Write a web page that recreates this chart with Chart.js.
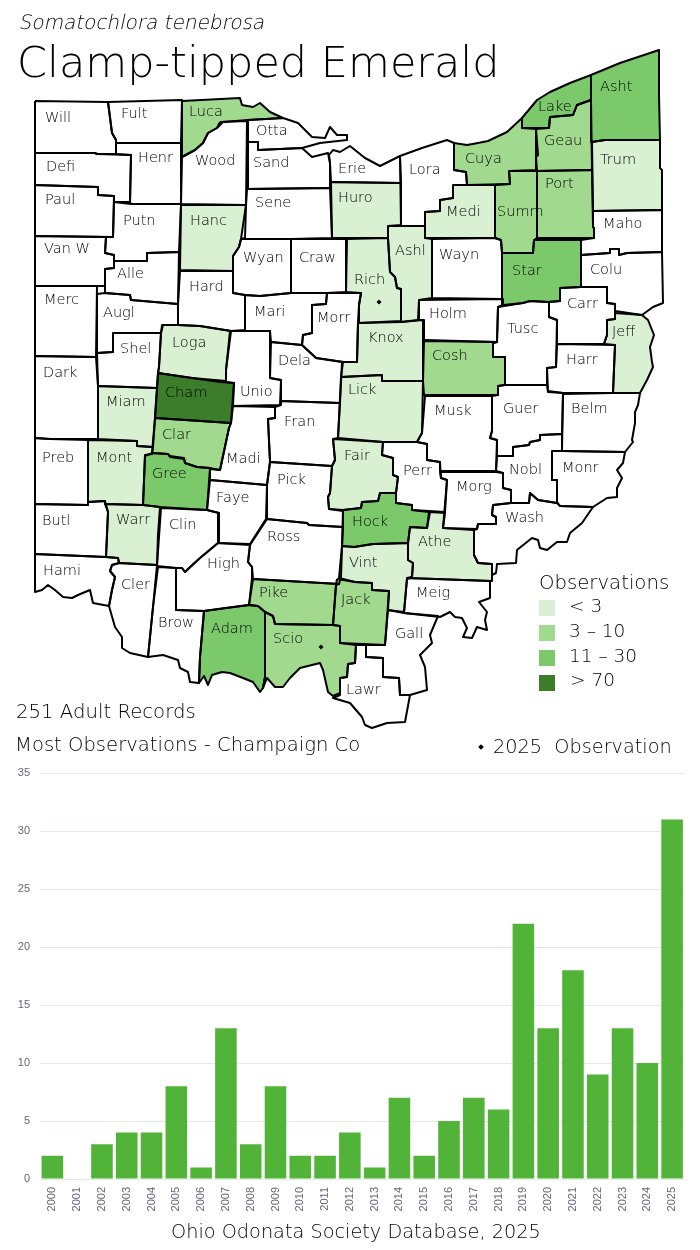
<!DOCTYPE html>
<html>
<head>
<meta charset="utf-8">
<title>Clamp-tipped Emerald</title>
<script src="https://cdn.jsdelivr.net/npm/chart.js@4"></script>
<style>
    body { margin: 0; background: #fff; width: 700px; height: 1250px; position: relative; overflow: hidden; font-family: "DejaVu Sans", sans-serif; font-weight: 200; color: #000; }
    canvas { position: absolute; left: 0; }
    .t { position: absolute; white-space: pre; line-height: 1; }
    .sw { position: absolute; left: 539px; width: 16px; height: 16px; }
</style>
</head>
<body>
<canvas id="mapChart" width="700" height="760" style="top:0"></canvas>
<canvas id="yearChart" width="700" height="470" style="top:760px"></canvas>

<div class="t" style="left:20px;top:12px;font-size:20px;transform:skewX(-12deg)">Somatochlora tenebrosa</div>
<div class="t" style="left:17px;top:41px;font-size:43px">Clamp-tipped Emerald</div>
<div class="t" style="left:16px;top:702px;font-size:19.7px">251 Adult Records</div>
<div class="t" style="left:15px;top:735px;font-size:19.6px">Most Observations - Champaign Co</div>
<div style="position:absolute;left:479px;top:745px;width:4px;height:4px;background:#000;transform:rotate(45deg)"></div>
<div class="t" style="left:493px;top:737px;font-size:19.3px">2025  Observation</div>
<div class="t" style="left:539px;top:573px;font-size:19.7px">Observations</div>
<div class="sw" style="top:600px;background:#d9f0d3"></div>
<div class="sw" style="top:625px;background:#a1d98f"></div>
<div class="sw" style="top:650px;background:#7bc96a"></div>
<div class="sw" style="top:675px;background:#3b7d2b"></div>
<div class="t" style="left:569px;top:597px;font-size:18.5px">&lt; 3</div>
<div class="t" style="left:569px;top:622px;font-size:18.5px">3 – 10</div>
<div class="t" style="left:569px;top:647px;font-size:18.5px">11 – 30</div>
<div class="t" style="left:570px;top:671px;font-size:18.5px">&gt; 70</div>
<div class="t" style="left:171px;top:1222px;font-size:19.3px">Ohio Odonata Society Database, 2025</div>

<script>
// bar chart values
const years = ['2000','2001','2002','2003','2004','2005','2006','2007','2008','2009','2010','2011','2012',
    '2013','2014','2015','2016','2017','2018','2019','2020','2021','2022','2023','2024','2025'];
const yearCounts = [2,0,3,4,4,8,1,13,3,8,2,2,4,1,7,2,5,7,6,22,13,18,9,13,10,31];

// observation bands, lightest to darkest, 0 is no records
const bandColors = ['#ffffff','#d9f0d3','#a1d98f','#7bc96a','#3b7d2b'];

const countyNames = ['Will','Fult','Henr','Defi','Paul','Putn','Van W','Alle','Merc','Augl','Shel','Dark',
    'Miam','Cham','Clar','Gree','Mont','Preb','Butl','Warr','Hami','Cler','Clin','Brow','High','Faye',
    'Madi','Unio','Loga','Hard','Hanc','Wood','Luca','Otta','Sand','Erie','Huro','Sene','Wyan','Craw',
    'Rich','Morr','Mari','Dela','Fran','Pick','Ross','Pike','Adam','Scio','Jack','Vint','Hock','Fair',
    'Lick','Knox','Ashl','Lora','Cuya','Lake','Geau','Asht','Trum','Port','Maho','Summ','Medi','Wayn',
    'Star','Colu','Carr','Jeff','Harr','Tusc','Holm','Cosh','Musk','Guer','Belm','Monr','Nobl','Morg',
    'Perr','Athe','Wash','Meig','Gall','Lawr'];

const countyBands = [0,0,0,0,0,0,0,0,0,0,0,0,
    1,4,2,3,1,0,0,1,0,0,0,0,0,0,
    0,0,1,0,1,0,2,0,0,0,1,0,0,0,
    1,0,0,0,0,0,0,2,3,2,2,1,3,1,
    1,1,1,0,2,3,2,3,1,2,0,2,1,0,
    3,0,0,1,0,0,0,2,0,0,0,0,0,0,
    0,1,0,0,0,0];

// outlines, same order as countyNames
const countyOutlines = [
    [[35,101],[108,102],[112,133],[116,140],[116,154],[97,154],[95,153],[35,153]],
    [[108,102],[182,100],[181,143],[116,143],[116,140],[112,133]],
    [[116,143],[181,143],[181,204],[131,204],[130,202],[131,155],[116,154]],
    [[35,153],[95,153],[97,154],[131,155],[130,202],[114,202],[114,196],[98,195],[98,187],[35,185]],
    [[35,185],[98,187],[98,195],[114,196],[113,237],[35,236]],
    [[114,202],[131,204],[181,204],[179,252],[147,253],[147,261],[114,261],[114,255],[105,253],[106,237],[113,237]],
    [[35,236],[106,237],[105,253],[114,255],[114,268],[105,269],[105,286],[97,286],[35,286]],
    [[114,261],[147,261],[147,253],[179,252],[178,304],[131,300],[130,295],[105,293],[105,269],[114,268]],
    [[35,286],[97,286],[96,357],[35,356]],
    [[97,294],[105,293],[130,295],[131,300],[178,304],[178,325],[162,325],[161,333],[113,333],[113,352],[97,353]],
    [[113,333],[161,333],[159,367],[158,373],[157,388],[98,386],[97,353],[113,352]],
    [[35,356],[96,357],[98,386],[98,439],[50,439],[35,438]],
    [[98,386],[157,388],[155,418],[153,447],[137,446],[137,441],[98,439]],
    [[158,373],[192,378],[220,382],[234,383],[231,423],[155,418],[157,388]],
    [[155,418],[231,423],[229,428],[220,470],[209,468],[197,467],[185,463],[184,458],[170,456],[168,454],[152,453]],
    [[145,456],[152,453],[168,454],[170,457],[184,459],[185,463],[197,467],[210,468],[207,510],[160,507],[143,505]],
    [[88,440],[137,441],[137,446],[153,447],[152,454],[145,455],[143,505],[105,504],[105,501],[88,502]],
    [[35,438],[50,439],[88,440],[88,505],[35,504]],
    [[35,504],[88,505],[88,502],[105,501],[108,512],[106,557],[35,554]],
    [[105,504],[143,505],[160,507],[158,535],[157,565],[119,563],[118,558],[106,557],[108,512]],
    [[35,554],[106,557],[118,558],[119,563],[112,565],[110,571],[115,577],[112,590],[109,606],[93,603],[90,590],[78,595],[72,598],[63,597],[55,590],[48,585],[42,590],[35,592]],
    [[119,563],[157,565],[153,607],[148,657],[130,653],[122,648],[122,637],[115,627],[109,606],[112,590],[115,577],[110,571],[112,565]],
    [[161,508],[207,510],[219,513],[218,543],[200,558],[190,567],[185,572],[182,568],[176,568],[157,566]],
    [[158,567],[176,568],[176,610],[204,611],[200,657],[199,683],[190,682],[188,672],[180,668],[178,660],[163,655],[148,657],[153,607]],
    [[185,572],[200,558],[218,543],[250,545],[248,562],[252,567],[252,578],[249,605],[226,608],[204,611],[176,610],[176,568],[182,568]],
    [[210,480],[267,485],[266,519],[250,544],[218,543],[219,513],[207,510]],
    [[233,406],[275,407],[275,418],[268,419],[270,462],[267,485],[210,480],[210,469],[220,470],[229,428],[231,423]],
    [[230,331],[270,331],[270,378],[281,380],[280,405],[233,406],[234,383],[226,382],[226,370]],
    [[163,325],[178,325],[200,326],[231,331],[226,370],[226,381],[192,378],[158,373],[159,367],[161,333]],
    [[180,271],[233,271],[233,293],[245,295],[245,330],[231,331],[200,326],[178,325],[178,304]],
    [[181,205],[246,205],[245,238],[241,239],[239,247],[233,256],[233,271],[180,270]],
    [[220,122],[247,121],[246,205],[181,204],[182,157],[195,150],[203,143],[208,133],[217,128]],
    [[182,101],[240,98],[242,105],[253,107],[260,103],[270,112],[283,118],[248,120],[223,122],[217,128],[208,133],[203,143],[195,150],[182,157]],
    [[248,120],[283,118],[298,123],[312,137],[325,138],[330,127],[337,135],[347,135],[347,140],[320,143],[302,148],[258,150],[258,142],[248,142]],
    [[248,142],[258,142],[258,150],[302,148],[312,157],[320,155],[328,153],[330,163],[330,188],[247,189]],
    [[330,163],[329,155],[333,150],[340,152],[350,146],[365,158],[380,166],[400,156],[401,183],[331,182]],
    [[331,182],[401,183],[401,225],[388,226],[388,238],[332,238]],
    [[247,189],[330,188],[332,238],[291,239],[241,239],[246,205]],
    [[241,239],[291,239],[291,293],[260,296],[245,295],[233,293],[233,271],[233,256],[239,247]],
    [[291,239],[346,239],[346,292],[327,293],[291,293]],
    [[347,239],[388,238],[390,272],[395,277],[397,288],[401,289],[401,321],[359,323],[359,305],[361,293],[346,292]],
    [[327,293],[361,293],[359,305],[358,323],[357,362],[344,362],[316,358],[302,345],[303,335],[312,333],[312,305],[326,304]],
    [[245,295],[260,296],[291,293],[327,293],[326,304],[312,305],[312,333],[303,335],[302,345],[271,342],[270,331],[245,331]],
    [[271,342],[302,345],[316,358],[342,362],[340,403],[281,401],[281,380],[270,378]],
    [[281,401],[340,403],[338,438],[333,439],[335,460],[332,466],[270,462],[268,419],[275,418],[275,407],[281,405]],
    [[270,462],[332,466],[330,493],[328,497],[329,509],[343,511],[343,527],[309,525],[307,523],[267,519],[267,485]],
    [[267,519],[307,523],[309,525],[343,527],[342,547],[341,577],[339,584],[253,579],[252,567],[248,562],[250,545]],
    [[253,579],[339,584],[336,585],[333,625],[275,624],[273,616],[265,612],[258,606],[249,605]],
    [[204,611],[226,608],[249,605],[258,606],[265,612],[265,677],[263,688],[260,692],[253,682],[243,678],[230,673],[222,672],[212,675],[208,685],[204,676],[199,683],[200,657]],
    [[265,612],[273,616],[275,624],[333,625],[340,626],[340,643],[356,645],[355,663],[348,664],[347,677],[340,678],[340,693],[333,696],[328,692],[323,670],[320,663],[300,668],[290,678],[283,687],[275,687],[267,678],[263,688],[265,677]],
    [[337,579],[355,582],[372,583],[372,590],[389,591],[385,645],[340,643],[340,626],[333,625],[336,585]],
    [[342,546],[354,547],[373,544],[408,543],[408,560],[413,563],[412,577],[407,579],[404,612],[388,610],[389,591],[372,590],[372,583],[355,582],[339,578]],
    [[343,510],[361,508],[362,502],[378,501],[380,493],[396,493],[396,503],[412,505],[412,510],[429,512],[427,528],[410,527],[408,543],[373,544],[354,547],[342,546]],
    [[333,439],[383,442],[382,455],[393,458],[393,475],[398,477],[396,493],[380,493],[378,501],[362,502],[361,508],[343,510],[329,509],[328,497],[330,493],[332,466],[335,460]],
    [[341,377],[382,375],[382,381],[423,381],[422,433],[417,442],[383,442],[338,438]],
    [[358,323],[401,322],[423,320],[423,381],[382,381],[382,375],[341,377],[343,362],[357,362]],
    [[388,226],[425,226],[425,238],[432,239],[432,298],[419,300],[418,320],[401,322],[401,289],[397,288],[395,277],[390,272],[388,238]],
    [[400,156],[422,148],[447,140],[454,143],[454,170],[466,172],[467,185],[453,185],[453,198],[440,200],[440,211],[425,212],[425,226],[401,226]],
    [[454,143],[467,145],[478,143],[488,141],[507,132],[522,118],[522,128],[536,129],[536,170],[509,171],[510,184],[467,185],[466,172],[454,170]],
    [[522,118],[537,100],[550,92],[570,83],[591,75],[591,100],[577,105],[573,115],[550,117],[549,128],[522,128]],
    [[536,129],[549,128],[550,117],[573,115],[577,105],[591,100],[592,170],[537,171],[536,157],[538,155]],
    [[591,75],[620,63],[659,50],[659,95],[660,140],[605,140],[591,142]],
    [[592,142],[605,140],[660,140],[660,168],[662,170],[662,210],[593,211]],
    [[537,171],[592,170],[593,227],[594,228],[594,238],[537,238]],
    [[593,211],[662,210],[662,252],[627,253],[619,255],[619,249],[610,249],[610,253],[581,255],[581,240],[594,238],[594,228],[593,227]],
    [[509,171],[537,171],[537,238],[534,240],[533,253],[502,253],[501,240],[495,238],[495,185],[510,184]],
    [[453,185],[495,185],[495,238],[425,238],[425,212],[440,211],[440,200],[453,198]],
    [[432,239],[495,238],[501,240],[502,253],[502,299],[432,298]],
    [[534,240],[581,240],[581,287],[560,288],[560,301],[548,302],[530,301],[523,303],[503,305],[502,253],[533,253]],
    [[581,255],[610,253],[610,249],[619,249],[619,255],[627,253],[662,252],[663,303],[653,307],[642,315],[615,311],[615,304],[607,303],[607,287],[581,287]],
    [[560,288],[581,287],[607,287],[607,303],[615,304],[615,319],[607,320],[607,335],[604,344],[557,344],[557,320],[549,317],[549,302],[560,301]],
    [[615,313],[642,315],[648,320],[654,335],[650,347],[652,362],[653,367],[647,380],[640,393],[613,393],[615,345],[604,344],[607,335],[607,320],[615,319]],
    [[557,344],[615,345],[613,393],[563,393],[548,391],[547,368],[556,367]],
    [[498,307],[523,303],[530,301],[549,302],[549,317],[557,320],[556,367],[547,368],[547,385],[505,385],[505,357],[493,357],[493,343],[497,342]],
    [[419,300],[502,299],[503,305],[498,307],[497,342],[425,340],[424,320],[419,320]],
    [[424,341],[497,342],[493,343],[493,357],[505,357],[505,385],[498,386],[498,395],[424,395],[423,381]],
    [[425,396],[492,396],[492,431],[490,438],[497,440],[496,471],[440,471],[440,462],[427,460],[427,444],[417,442],[422,433]],
    [[492,396],[498,395],[498,386],[505,385],[547,385],[548,392],[563,393],[562,434],[540,435],[540,440],[530,442],[529,445],[513,447],[513,456],[497,456],[497,440],[490,438],[492,431]],
    [[563,394],[613,393],[640,393],[638,405],[635,412],[635,423],[632,440],[633,442],[625,452],[562,451]],
    [[552,451],[562,451],[625,452],[623,463],[617,470],[622,478],[617,488],[617,497],[607,498],[593,507],[560,506],[557,502],[557,480],[552,480]],
    [[497,456],[513,456],[513,447],[529,445],[530,442],[540,440],[540,435],[562,434],[562,451],[552,451],[552,480],[557,480],[557,503],[538,500],[530,493],[529,503],[511,503],[511,490],[503,488],[503,473],[496,471]],
    [[440,472],[496,472],[503,473],[503,488],[511,490],[511,503],[493,505],[492,515],[496,517],[496,524],[478,524],[477,529],[443,528],[447,480],[441,478]],
    [[383,442],[417,442],[427,444],[427,460],[440,462],[441,478],[447,480],[445,512],[412,510],[412,505],[396,503],[396,493],[398,477],[393,475],[393,458],[382,455]],
    [[430,512],[445,513],[443,528],[474,530],[474,555],[478,563],[492,564],[492,581],[407,578],[412,577],[413,563],[408,560],[408,543],[410,527],[427,528]],
    [[493,505],[511,503],[529,503],[530,493],[538,500],[557,503],[560,506],[593,507],[582,523],[570,533],[567,542],[557,542],[547,550],[540,548],[538,540],[532,538],[517,550],[516,563],[497,564],[496,573],[492,575],[492,564],[478,563],[474,555],[474,530],[477,529],[478,524],[496,524],[496,517],[492,515]],
    [[407,578],[490,581],[490,598],[479,602],[487,612],[485,620],[487,630],[477,627],[472,638],[463,637],[467,628],[462,618],[455,617],[450,612],[440,617],[404,613]],
    [[388,610],[404,613],[438,616],[430,635],[432,643],[420,655],[425,667],[427,690],[410,695],[400,695],[399,678],[383,677],[383,658],[366,657],[366,645],[385,645]],
    [[356,645],[366,645],[366,657],[383,658],[383,677],[399,678],[400,695],[410,695],[405,722],[387,723],[372,728],[365,725],[362,717],[350,703],[333,698],[340,695],[340,678],[347,677],[348,664],[355,663]]
];

// where each county name starts, same order as countyNames
const labelX = [45,121,138,46,45,123,44,117,44,103,120,43,106,165,162,152,96,42,42,116,43,121,169,158,207,216,
    226,240,172,189,190,195,189,256,253,338,338,255,243,299,354,317,254,278,284,277,267,259,211,273,341,349,352,344,
    348,368,395,409,465,538,544,600,600,545,603,497,446,439,512,590,567,612,566,507,429,432,434,503,571,562,509,456,
    403,418,505,416,395,346];
const labelY = [118,114,158,167,200,221,249,274,300,313,349,373,402,393,435,474,458,458,521,520,571,585,525,623,564,498,
    459,392,343,287,221,161,112,131,163,169,198,203,258,258,280,318,312,361,422,480,537,593,629,639,600,563,522,456,
    390,338,251,170,159,107,141,87,160,184,224,212,212,255,271,270,304,332,360,329,314,356,411,409,409,468,470,487,
    471,542,518,593,634,690];

// 2025 observation marks
const obs2025X = [379,321];
const obs2025Y = [302,647];

const countyFill = {
    id: 'countyFill',
    beforeDatasetsDraw(chart) {
        const ctx = chart.ctx;
        chart.data.datasets.forEach((ds, i) => {
            if (!ds.countyFill) return;
            const pts = chart.getDatasetMeta(i).data;
            ctx.beginPath();
            pts.forEach((p, j) => j ? ctx.lineTo(p.x, p.y) : ctx.moveTo(p.x, p.y));
            ctx.closePath();
            ctx.fillStyle = ds.countyFill;
            ctx.fill();
        });
    }
};

const countyLabels = {
    id: 'countyLabels',
    afterDatasetsDraw(chart) {
        const ctx = chart.ctx;
        ctx.save();
        ctx.font = '200 14.5px "DejaVu Sans"';
        ctx.fillStyle = '#000';
        ctx.textBaseline = 'middle';
        countyNames.forEach((name, i) => {
            ctx.fillText(name, chart.scales.x.getPixelForValue(labelX[i]), chart.scales.y.getPixelForValue(labelY[i]));
        });
        ctx.restore();
    }
};

const mapDatasets = countyNames.map((name, i) => ({
    label: name,
    data: countyOutlines[i].concat([countyOutlines[i][0]]).map(p => ({ x: p[0], y: p[1] })),
    showLine: true,
    countyFill: bandColors[countyBands[i]],
    borderColor: '#000',
    borderWidth: 2,
    borderJoinStyle: 'round',
    pointRadius: 0,
    tension: 0
}));
mapDatasets.unshift({
    label: '2025 Observation',
    data: obs2025X.map((x, i) => ({ x: x, y: obs2025Y[i] })),
    pointStyle: 'rectRot',
    pointRadius: 2.5,
    backgroundColor: '#000',
    borderWidth: 0
});

new Chart(document.getElementById('mapChart'), {
    type: 'scatter',
    data: { datasets: mapDatasets },
    options: {
        responsive: false,
        animation: false,
        devicePixelRatio: 1,
        layout: { autoPadding: false },
        plugins: { legend: { display: false }, tooltip: { enabled: false } },
        scales: {
            x: { type: 'linear', min: 0, max: 700, display: false },
            y: { type: 'linear', min: 0, max: 760, reverse: true, display: false }
        }
    },
    plugins: [countyFill, countyLabels]
});

new Chart(document.getElementById('yearChart'), {
    type: 'bar',
    data: {
        labels: years,
        datasets: [{
            data: yearCounts,
            backgroundColor: '#52b339',
            categoryPercentage: 1,
            barPercentage: 0.87
        }]
    },
    options: {
        responsive: false,
        animation: false,
        devicePixelRatio: 1,
        layout: { autoPadding: false, padding: { top: 13, right: 15.5, left: 0, bottom: 0 } },
        plugins: { legend: { display: false }, tooltip: { enabled: false } },
        scales: {
            x: {
                grid: { display: false },
                border: { display: false },
                afterFit: s => { s.height = 51; },
                ticks: {
                    autoSkip: false, minRotation: 90, maxRotation: 90, padding: 0,
                    color: '#66667a', font: { family: 'Liberation Sans', size: 11 }
                }
            },
            y: {
                min: 0, max: 35,
                afterFit: s => { s.width = 40; s.paddingTop = 0; s.paddingBottom = 0; },
                border: { display: false },
                grid: { color: '#e2ebdf', drawTicks: false },
                ticks: {
                    stepSize: 5, padding: 10,
                    color: '#66667a', font: { family: 'Liberation Sans', size: 11 }
                }
            }
        }
    }
});
</script>
</body>
</html>
